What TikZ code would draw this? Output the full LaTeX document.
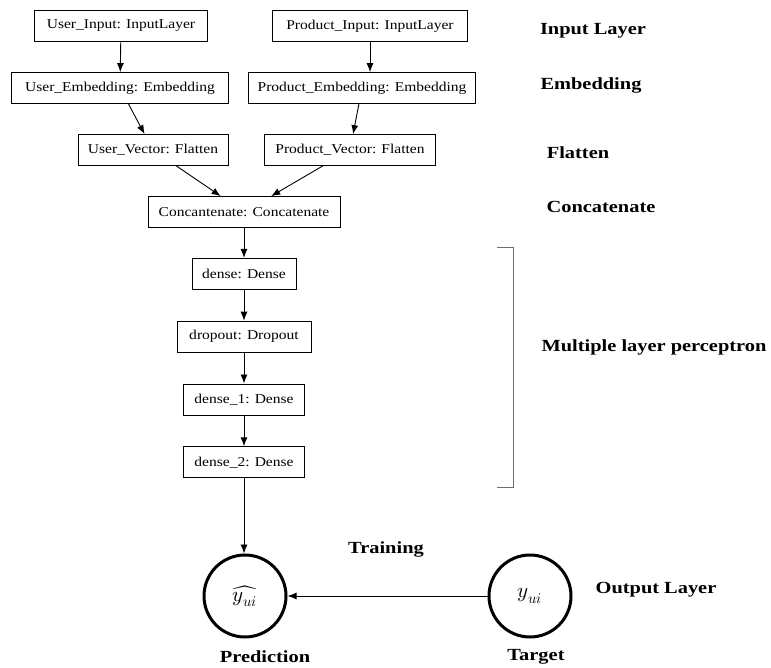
\documentclass[tikz,border=0pt]{standalone}
\usepackage{fontspec}
\usepackage{unicode-math}
\setmainfont{Liberation Serif}
\setmathfont{Latin Modern Math}
\usetikzlibrary{arrows.meta,positioning}

\begin{document}
\begin{tikzpicture}[
    x=1pt, y=-1pt,
    node distance=31pt,
    every node/.style={font=\fontsize{13.5}{15}\selectfont\addfontfeature{FakeStretch=1.15}},
    layer/.style={draw, line width=0.8pt, minimum height=31pt, inner sep=2pt},
    tag/.style={font=\fontsize{17}{19}\selectfont\bfseries\addfontfeature{FakeStretch=1.2}},
    flow/.style={-{Latex[length=9pt,width=7pt]}, line width=0.9pt},
    output/.style={circle, draw, line width=3pt, minimum size=82pt, inner sep=0pt, font=\fontsize{21}{23}\selectfont}
]
\useasboundingbox (0,0) rectangle (771,668);
% two input branches
\node[layer, minimum width=173pt] (uin) at (121,26) {User\_Input: InputLayer};
\node[layer, minimum width=195pt] (pin) at (370,26) {Product\_Input: InputLayer};
\node[layer, minimum width=217pt] (uemb) at (120,88) {User\_Embedding: Embedding};
\node[layer, minimum width=227pt] (pemb) at (362,88) {Product\_Embedding: Embedding};
\node[layer, minimum width=150pt] (uvec) at (153,150) {User\_Vector: Flatten};
\node[layer, minimum width=171pt] (pvec) at (350,150) {Product\_Vector: Flatten};
\node[layer, minimum width=192pt] (concat) at (244,212) {Concantenate: Concatenate};
% perceptron stack
\node[layer, minimum width=104pt, below=30pt of concat] (dense) {dense: Dense};
\node[layer, minimum width=134pt, below=of dense] (dropout) {dropout: Dropout};
\node[layer, minimum width=121pt, below=of dropout] (dense1) {dense\_1: Dense};
\node[layer, minimum width=121pt, below=of dense1] (dense2) {dense\_2: Dense};
% output
\node[output] (pred) at (245,596) {$\widehat{y_{ui}}$};
\node[output] (target) at (530,596) {$y_{ui}$};
\node[tag] (predlab) at (265,657) {Prediction};
\node[tag] (targetlab) at (536,657) {Target};
\node[tag] (train) at (386,549) {Training};
% layer names
\node[tag] (tinput) at (593,31) {Input Layer};
\node[tag] (temb) at (591,85) {Embedding};
\node[tag] (tflat) at (578,153) {Flatten};
\node[tag] (tconcat) at (601,207) {Concatenate};
\node[tag] (tmlp) at (654,347) {Multiple layer perceptron};
\node[tag] (tout) at (656,590) {Output Layer};
\draw[color={rgb,255:red,68;green,114;blue,196}, line width=0.9pt] (497,247) -- (513,247) -- (513,487) -- (497,487);
\draw[flow] (uin) -- (uemb);
\draw[flow] (pin) -- (pemb.north -| pin);
\draw[flow] (uemb) -- (uvec);
\draw[flow] (pemb) -- (pvec);
\draw[flow] (uvec) -- (concat);
\draw[flow] (pvec) -- (concat);
\draw[flow] (concat) -- (dense);
\draw[flow] (dense) -- (dropout);
\draw[flow] (dropout) -- (dense1);
\draw[flow] (dense1) -- (dense2);
\draw[flow] (dense2.south) -- (dense2.south |- pred.north);
\draw[flow] (target) -- (pred);
\end{tikzpicture}
\end{document}
